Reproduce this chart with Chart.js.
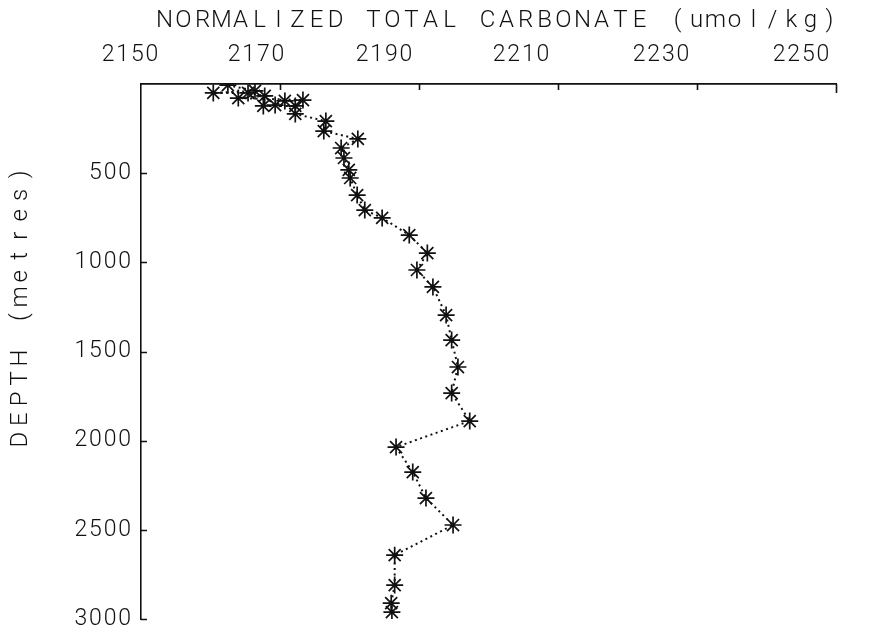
<!DOCTYPE html>
<html>
<head>
<meta charset="utf-8">
<script src="https://cdn.jsdelivr.net/npm/chart.js@4.4.0/dist/chart.umd.min.js"></script>
<style>
  html, body { margin: 0; padding: 0; background: #ffffff; }
  #wrap { width: 878px; height: 634px; }
</style>
</head>
<body>
<div id="wrap"><canvas id="profile" width="878" height="634"></canvas></div>
<script>
// Normalized total carbonate profile (umol/kg) against depth (m)
const depthM = [6, 39, 50, 50, 67, 79, 90, 95, 118, 123, 123, 168, 208, 264, 308, 359, 415, 482, 527, 623,
  707, 751, 847, 948, 1043, 1138, 1296, 1436, 1587, 1733, 1890, 2036, 2176, 2322, 2473, 2642, 2810, 2911, 2961];
const carbonate = [2162.5, 2166.4, 2160.4, 2165.4, 2167.8, 2164.0, 2173.3, 2170.7, 2169.3, 2167.6, 2172.2, 2172.2,
  2176.6, 2176.3, 2181.2, 2178.8, 2179.2, 2179.9, 2180.1, 2181.1,
  2182.2, 2184.7, 2188.6, 2191.2, 2189.7, 2192.0, 2193.9, 2194.7, 2195.6, 2194.7, 2197.3,
  2186.7, 2189.1, 2191.0, 2194.9, 2186.5, 2186.5, 2186.0, 2186.1];

const xTickValues = [2150, 2170, 2190, 2210, 2230, 2250];
const xTickLabels = ['2150', '2170', '2190', '2210', '2230', '2250'];
const yTickValues = [500, 1000, 1500, 2000, 2500, 3000];
const yTickLabels = ['500', '1000', '1500', '2000', '2500', '3000'];
const titleText = 'NORMALIZED TOTAL CARBONATE (umol/kg)';
const yTitleText = 'DEPTH (metres)';

const INK = '#111111';
const LABEL_FONT = '300 23px Roboto, "DejaVu Sans", sans-serif';
const TITLE_FONT = '300 24px Roboto, "DejaVu Sans", sans-serif';

// Draw a string one character at a time on a fixed pitch, like pen-plotter lettering.
function plotText(ctx, text, x, y, pitch, align) {
  const total = text.length * pitch;
  let start = x;
  if (align === 'center') start = x - total / 2;
  else if (align === 'right') start = x - total;
  ctx.textAlign = 'center';
  for (let i = 0; i < text.length; i++) {
    ctx.fillText(text[i], start + (i + 0.5) * pitch, y);
  }
}

// Axis decorations: inward tick marks, tick labels and titles
const plotterAxes = {
  id: 'plotterAxes',
  afterDraw(chart) {
    const ctx = chart.ctx;
    const xs = chart.scales.x;
    const ys = chart.scales.y;
    const area = chart.chartArea;
    ctx.save();
    ctx.strokeStyle = INK;
    ctx.fillStyle = INK;
    ctx.lineWidth = 1.6;

    // tick marks pointing into the plot
    ctx.beginPath();
    xTickValues.forEach((v, i) => {
      if (i === 0) return;
      const px = Math.round(xs.getPixelForValue(v)) + 0.5;
      const len = i === xTickValues.length - 1 ? 9 : 6;
      ctx.moveTo(px, area.top);
      ctx.lineTo(px, area.top + len);
    });
    yTickValues.forEach((v) => {
      const py = Math.round(ys.getPixelForValue(v)) + 0.5;
      ctx.moveTo(area.left, py);
      ctx.lineTo(area.left + 6, py);
    });
    ctx.stroke();

    ctx.font = LABEL_FONT;
    ctx.textBaseline = 'middle';

    // top tick labels sit a little to the left of their ticks
    const labelShift = [-11, -24, -35, -37, -36, -35];
    xTickValues.forEach((v, i) => {
      plotText(ctx, xTickLabels[i], xs.getPixelForValue(v) + labelShift[i], 55, 14.6, 'center');
    });

    // left tick labels
    yTickValues.forEach((v, i) => {
      plotText(ctx, yTickLabels[i], 132, ys.getPixelForValue(v), 14.6, 'right');
    });

    // chart title on a wider pitch
    ctx.font = TITLE_FONT;
    plotText(ctx, titleText, 497, 21, 19.0, 'center');

    // vertical axis title
    ctx.translate(21, 310);
    ctx.rotate(-Math.PI / 2);
    plotText(ctx, yTitleText, 3, 0, 20.4, 'center');
    ctx.restore();
  }
};

new Chart(document.getElementById('profile'), {
  type: 'scatter',
  data: {
    datasets: [{
      data: carbonate.map((v, i) => ({ x: v, y: depthM[i] })),
      showLine: true,
      borderColor: INK,
      borderWidth: 2,
      borderDash: [2, 3.5],
      pointStyle: 'star',
      pointRadius: 8.5,
      pointBorderWidth: 1.7,
      pointBorderColor: INK,
      pointBackgroundColor: INK,
      tension: 0
    }]
  },
  options: {
    responsive: false,
    animation: false,
    devicePixelRatio: 1,
    layout: { padding: { left: 141, top: 84, right: 42, bottom: 15 } },
    plugins: { legend: { display: false }, tooltip: { enabled: false }, title: { display: false } },
    scales: {
      x: {
        type: 'linear', position: 'top', min: 2150, max: 2250,
        ticks: { display: false, stepSize: 20 },
        grid: { display: true, drawOnChartArea: false, drawTicks: false },
        border: { display: true, color: INK, width: 1.8 }
      },
      y: {
        type: 'linear', position: 'left', reverse: true, min: 0, max: 3000,
        ticks: { display: false, stepSize: 500 },
        grid: { display: true, drawOnChartArea: false, drawTicks: false },
        border: { display: true, color: INK, width: 1.6 }
      }
    }
  },
  plugins: [plotterAxes]
});
</script>
</body>
</html>
